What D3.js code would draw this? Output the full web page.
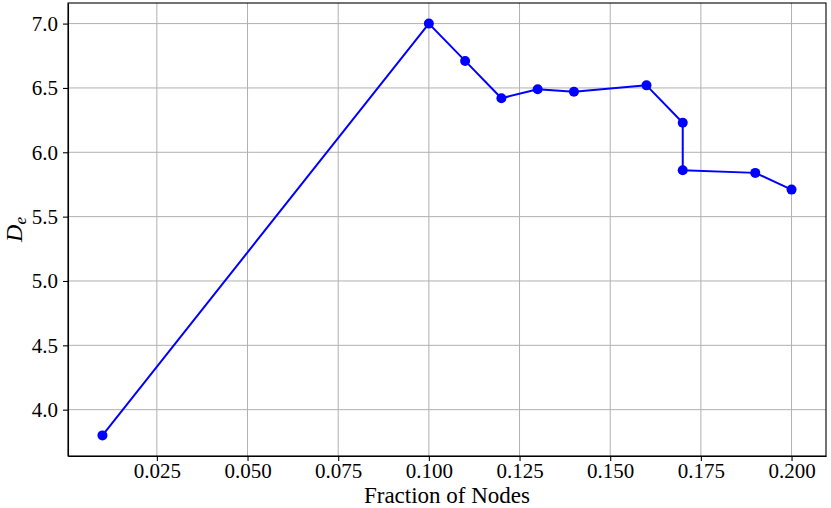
<!DOCTYPE html>
<meta charset="utf-8">
<style>

body {
  margin: 0;
  background: #fff;
}

svg text {
  font-family: "Liberation Serif", "Times New Roman", serif;
  fill: #000;
}

.grid line {
  stroke: #b0b0b0;
  stroke-width: 1;
}

.axis path, .axis line {
  fill: none;
  stroke: #000;
  stroke-width: 1.1;
}

</style>
<body>
<script src="https://cdn.jsdelivr.net/npm/d3@7"></script>
<script>

// fraction of nodes vs D_e
var fractions = [0.01, 0.10, 0.11, 0.12, 0.13, 0.14, 0.16, 0.17, 0.17, 0.19, 0.20];
var deValues = [3.80, 7.00, 6.71, 6.42, 6.49, 6.47, 6.52, 6.23, 5.86, 5.84, 5.71];

var xTicks = [0.025, 0.050, 0.075, 0.100, 0.125, 0.150, 0.175, 0.200];
var yTicks = [4.0, 4.5, 5.0, 5.5, 6.0, 6.5, 7.0];

var width = 831,
    height = 508,
    margin = {top: 3, right: 5, bottom: 52, left: 68};

var data = fractions.map((f, i) => ({x: f, y: deValues[i]}));

// matplotlib-style 5% padding around the data
function padded(ext) {
  var p = (ext[1] - ext[0]) * 0.05;
  return [ext[0] - p, ext[1] + p];
}

var x = d3.scaleLinear()
    .domain(padded(d3.extent(fractions)))
    .range([margin.left, width - margin.right]);

var y = d3.scaleLinear()
    .domain(padded(d3.extent(deValues)))
    .range([height - margin.bottom, margin.top]);

var svg = d3.select("body").append("svg")
    .attr("width", width)
    .attr("height", height);

// grid
var grid = svg.append("g").attr("class", "grid");

grid.selectAll(".gx")
  .data(xTicks)
  .join("line")
    .attr("class", "gx")
    .attr("x1", d => x(d)).attr("x2", d => x(d))
    .attr("y1", margin.top).attr("y2", height - margin.bottom);

grid.selectAll(".gy")
  .data(yTicks)
  .join("line")
    .attr("class", "gy")
    .attr("y1", d => y(d)).attr("y2", d => y(d))
    .attr("x1", margin.left).attr("x2", width - margin.right);

// the line + markers
var line = d3.line()
    .x(d => x(d.x))
    .y(d => y(d.y));

svg.append("path")
    .datum(data)
    .attr("fill", "none")
    .attr("stroke", "#0000ff")
    .attr("stroke-width", 2)
    .attr("stroke-linejoin", "round")
    .attr("d", line);

svg.append("g")
    .attr("fill", "#0000ff")
  .selectAll("circle")
  .data(data)
  .join("circle")
    .attr("cx", d => x(d.x))
    .attr("cy", d => y(d.y))
    .attr("r", 5);

// axes
var xAxis = svg.append("g")
    .attr("class", "axis")
    .attr("transform", "translate(0," + (height - margin.bottom) + ")")
    .call(d3.axisBottom(x).tickValues(xTicks).tickFormat(d3.format(".3f")).tickSizeInner(5).tickSizeOuter(0).tickPadding(2));

var yAxis = svg.append("g")
    .attr("class", "axis")
    .attr("transform", "translate(" + margin.left + ",0)")
    .call(d3.axisLeft(y).tickValues(yTicks).tickFormat(d3.format(".1f")).tickSizeInner(5).tickSizeOuter(0).tickPadding(5));

svg.selectAll(".axis text")
    .attr("font-size", 21)
    .style("font-family", "'Liberation Serif', serif");

xAxis.selectAll("text").attr("dy", "0.72em");

// top/right spines, drawn as a frame
svg.append("rect")
    .attr("x", margin.left)
    .attr("y", margin.top)
    .attr("width", width - margin.left - margin.right)
    .attr("height", height - margin.top - margin.bottom)
    .attr("fill", "none")
    .attr("stroke", "#000")
    .attr("stroke-width", 1.1);

// axis labels
svg.append("text")
    .attr("x", (margin.left + width - margin.right) / 2)
    .attr("y", 503)
    .attr("text-anchor", "middle")
    .attr("font-size", 23)
    .text("Fraction of Nodes");

var ylab = svg.append("text")
    .attr("transform", "translate(22," + ((margin.top + height - margin.bottom) / 2) + ") rotate(-90)")
    .attr("text-anchor", "middle")
    .attr("font-size", 24);

ylab.append("tspan")
    .attr("font-style", "italic")
    .text("D");

ylab.append("tspan")
    .attr("font-style", "italic")
    .attr("font-size", 17)
    .attr("dy", 4)
    .text("e");

</script>
